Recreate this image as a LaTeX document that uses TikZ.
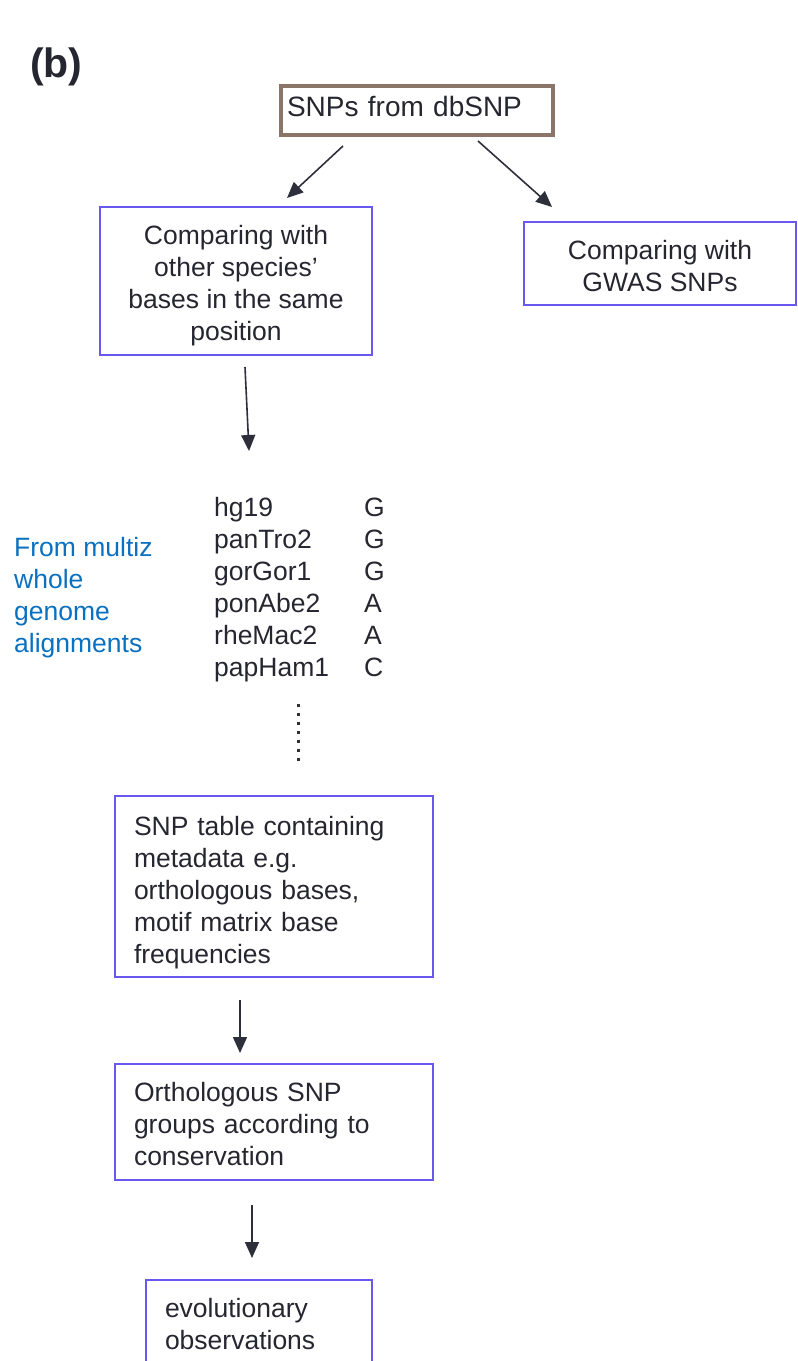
\documentclass[tikz,border=0pt]{standalone}
\usepackage{fontspec}
\setmainfont{Liberation Sans}
\usetikzlibrary{arrows.meta}
\definecolor{boxblue}{RGB}{104,88,240}
\definecolor{brownbox}{RGB}{139,117,104}
\definecolor{txt}{RGB}{38,38,48}
\definecolor{arr}{RGB}{47,47,60}
\definecolor{note}{RGB}{10,112,192}
\begin{document}
\begin{tikzpicture}[x=1pt,y=-1pt,
  every node/.style={text=txt, font=\fontsize{26.5}{32}\selectfont},
  flowbox/.style={draw=boxblue, line width=2pt, inner sep=0pt},
  leftbox/.style={flowbox, align=left, inner xsep=19pt},
  cell/.style={anchor=base west, inner sep=0pt},
  notecell/.style={cell, text=note},
  flowarrow/.style={draw=arr, line width=1.6pt, -{Triangle[length=16pt,width=14pt]}}]
\useasboundingbox (0,0) rectangle (798,1361);
\clip (0,0) rectangle (798,1361);

\node[anchor=base west, inner sep=0pt, font=\fontsize{41}{48}\selectfont\bfseries] (label) at (30,77) {(b)};

\node[draw=brownbox, line width=4pt, inner xsep=6pt, inner ysep=0pt, text width=260pt, align=left,
      minimum height=49pt, font=\fontsize{28}{32}\selectfont] (src) at (417,110.5)
  {SNPs from dbSNP\rule[-9pt]{0pt}{9pt}};

\node[flowbox, minimum width=272pt, minimum height=148pt, align=center] (cmp) at (236,281)
  {\rule{0pt}{29pt}Comparing with\\other species’\\bases in the same\\position};
\node[flowbox, minimum width=272pt, minimum height=83pt, align=center] (gwas) at (660,263.5)
  {\rule{0pt}{25pt}Comparing with\\GWAS SNPs};

\foreach \n/\b [count=\i] in {hg19/G, panTro2/G, gorGor1/G, ponAbe2/A, rheMac2/A, papHam1/C} {
  \node[cell] (sp\i) at (214,{516+32*(\i-1)}) {\n};
  \node[cell] (bs\i) at (364,{516+32*(\i-1)}) {\b};
}
\foreach \t [count=\i] in {From multiz, whole, genome, alignments} {
  \node[notecell] (note\i) at (14,{556+32*(\i-1)}) {\t};
}
\draw[arr, line width=3pt, dash pattern=on 3pt off 6pt] (298,703.5) -- (298,762);

\node[leftbox, text width=280pt, minimum height=181pt] (tbl) at (274,886.5)
  {\rule{0pt}{31pt}SNP table containing\\metadata e.g.\\orthologous bases,\\motif matrix base\\frequencies};
\node[leftbox, text width=280pt, minimum height=116pt] (orth) at (274,1122)
  {\rule{0pt}{23pt}Orthologous SNP\\groups according to\\conservation};
\node[leftbox, text width=188pt, minimum height=88pt] (evo) at (259,1324)
  {evolutionary\\observations};

\coordinate (a1s) at (343,146); \coordinate (a1e) at (287,198);
\coordinate (a2s) at (478,141); \coordinate (a2e) at (552,207);
\coordinate (a3s) at (245,367); \coordinate (a3e) at (249,451);
\coordinate (a4s) at (240,1000); \coordinate (a4e) at (240,1053);
\coordinate (a5s) at (252,1205); \coordinate (a5e) at (252,1258);
\draw[flowarrow] (a1s) -- (a1e);
\draw[flowarrow] (a2s) -- (a2e);
\draw[flowarrow] (a3s) -- (a3e);
\draw[flowarrow] (a4s) -- (a4e);
\draw[flowarrow] (a5s) -- (a5e);
\end{tikzpicture}
\end{document}
